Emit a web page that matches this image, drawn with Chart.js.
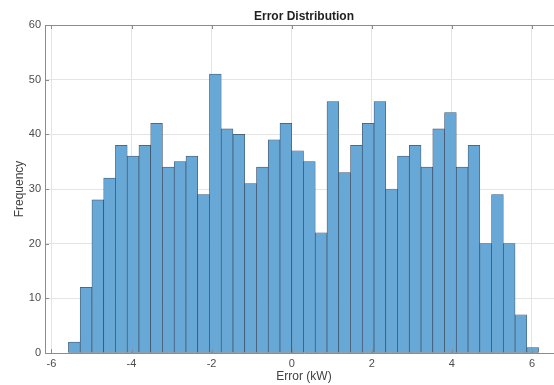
<!DOCTYPE html>
<html>
<head>
<meta charset="utf-8">
<script src="https://cdn.jsdelivr.net/npm/chart.js@4.4.0/dist/chart.umd.min.js"></script>
<style>
    html, body { margin: 0; padding: 0; background: #fff; overflow: hidden; }
    #wrap { width: 563px; height: 385px; }
</style>
</head>
<body>
<div id="wrap"><canvas id="graficoErro" width="563" height="385"></canvas></div>
<script>
// histogram counts, one per bin
const counts = [2, 12, 28, 32, 38, 36, 38, 42, 34, 35, 36, 29, 51, 41, 40, 31, 34, 39, 42, 37,
                35, 22, 46, 33, 38, 42, 46, 30, 36, 38, 34, 41, 44, 34, 38, 20, 29, 20, 7, 1];
const binStart = -5.575;
const binWidth = 0.2935;
const xTicks = [-6, -4, -2, 0, 2, 4, 6];
const yTicks = [0, 10, 20, 30, 40, 50, 60];

Chart.defaults.font.family = '"Liberation Sans", Arial, sans-serif';

// matlab-like box: top edge, inward tick marks and the title
const axesBox = {
    id: 'axesBox',
    afterDraw(chart) {
        const { ctx, chartArea: a, scales: { x, y } } = chart;
        ctx.save();
        ctx.strokeStyle = '#8c8c8c';
        ctx.lineWidth = 1;
        ctx.beginPath();
        ctx.moveTo(a.left, a.top + 0.5);
        ctx.lineTo(a.right, a.top + 0.5);
        xTicks.forEach(v => {
            const px = Math.round(x.getPixelForValue(v)) + 0.5;
            ctx.moveTo(px, a.bottom);
            ctx.lineTo(px, a.bottom - 4);
            ctx.moveTo(px, a.top);
            ctx.lineTo(px, a.top + 4);
        });
        yTicks.forEach(v => {
            const py = Math.round(y.getPixelForValue(v)) + 0.5;
            ctx.moveTo(a.left, py);
            ctx.lineTo(a.left + 4, py);
        });
        ctx.stroke();
        ctx.fillStyle = '#1f1f1f';
        ctx.font = 'bold 12px "Liberation Sans", Arial, sans-serif';
        ctx.textAlign = 'center';
        ctx.textBaseline = 'middle';
        ctx.fillText('Error Distribution', (a.left + a.right) / 2, 16.5);
        ctx.restore();
    }
};

const ctx = document.getElementById('graficoErro');
new Chart(ctx, {
    type: 'bar',
    data: {
        datasets: [{
            label: 'Error',
            data: counts.map((c, i) => ({ x: binStart + binWidth * (i + 0.5), y: c })),
            backgroundColor: 'rgb(104, 168, 214)',
            borderColor: 'rgba(35, 55, 80, 0.85)',
            borderWidth: 0.7,
            borderSkipped: false,
            barPercentage: 1,
            categoryPercentage: 1
        }]
    },
    options: {
        responsive: false,
        animation: false,
        events: [],
        layout: { padding: { top: 25, left: 0, right: 0, bottom: 0 } },
        plugins: {
            legend: { display: false },
            tooltip: { enabled: false }
        },
        scales: {
            x: {
                type: 'linear',
                min: -6.16,
                max: 6.775,
                offset: false,
                afterBuildTicks: s => { s.ticks = xTicks.map(v => ({ value: v })); },
                afterFit: s => { s.height = 32; },
                ticks: {
                    color: '#4d4d4d',
                    font: { size: 11 },
                    padding: 4,
                    maxRotation: 0,
                    autoSkip: false
                },
                grid: { color: '#e4e4e4', drawTicks: false, offset: false },
                border: { color: '#8c8c8c' },
                title: {
                    display: true,
                    text: 'Error (kW)',
                    color: '#404040',
                    font: { size: 12 },
                    padding: { top: 0, bottom: 1 }
                }
            },
            y: {
                min: 0,
                max: 60,
                afterBuildTicks: s => { s.ticks = yTicks.map(v => ({ value: v })); },
                afterFit: s => { s.width = 45; },
                ticks: {
                    color: '#4d4d4d',
                    font: { size: 11 },
                    padding: 4
                },
                grid: { color: '#e4e4e4', drawTicks: false },
                border: { color: '#8c8c8c' },
                title: {
                    display: true,
                    text: 'Frequency',
                    color: '#404040',
                    font: { size: 12 },
                    padding: { top: 12, bottom: 0 }
                }
            }
        }
    },
    plugins: [axesBox]
});
</script>
</body>
</html>
